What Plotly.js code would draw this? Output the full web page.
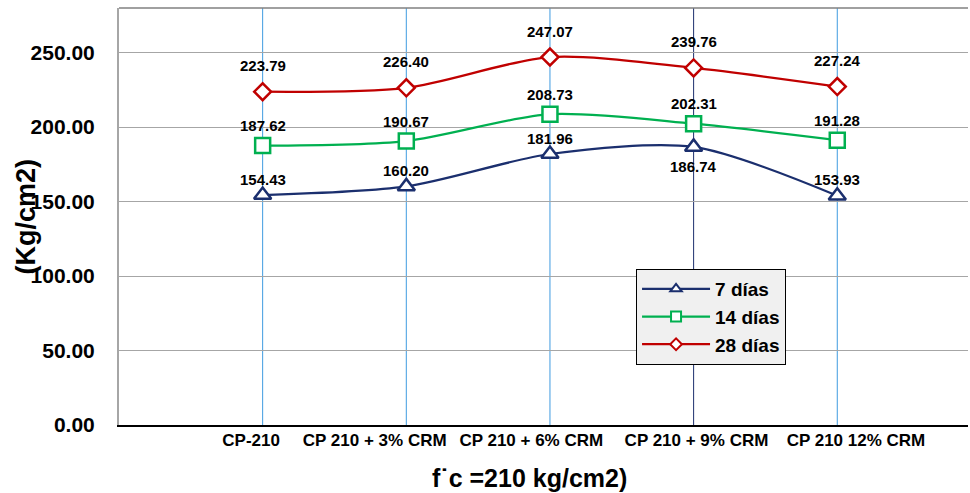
<!DOCTYPE html>
<html>
<head>
<meta charset="utf-8">
<script src="https://cdn.plot.ly/plotly-3.0.1.min.js"></script>
<style>html,body{margin:0;padding:0;background:#fff;}#chart{width:970px;height:493px;}</style>
</head>
<body>
<div id="chart"></div>
<script>
const categories = ["CP-210", "CP 210 + 3% CRM", "CP 210 + 6% CRM", "CP 210 + 9% CRM", "CP 210 12% CRM"];
const seriesNames = ["7 días", "14 días", "28 días"];
const dias7 = [154.43, 160.20, 181.96, 186.74, 153.93];
const dias14 = [187.62, 190.67, 208.73, 202.31, 191.28];
const dias28 = [223.79, 226.40, 247.07, 239.76, 227.24];
const yTicks = [0, 50, 100, 150, 200, 250];
const xTitle = "f˙c =210 kg/cm2)";
const yTitle = "(Kg/cm2)";

const FONT = "Arial, 'Liberation Sans', sans-serif";
const idx = categories.map((_, i) => i);
// horizontal offsets of the category labels relative to their gridlines (layout only)
const labelOffsets = [-0.08, -0.22, -0.13, 0.02, 0.13];

const styles = [
  {data: dias7, color: "#1b2f6e", symbol: "triangle-up", size: 15, legSize: 10, shift: 16, below: [3]},
  {data: dias14, color: "#00b050", symbol: "square", size: 15, legSize: 10, shift: 20, below: []},
  {data: dias28, color: "#c00000", symbol: "diamond", size: 13, legSize: 9, shift: 26, below: []}
];

const traces = styles.map((s, k) => ({
  x: idx, y: s.data, type: "scatter", mode: "lines+markers", name: seriesNames[k],
  legendgroup: "g" + k, showlegend: false,
  line: {color: s.color, width: 2.25, shape: "spline", smoothing: 0.8},
  marker: {symbol: s.symbol, size: s.size, color: "#ffffff", line: {color: s.color, width: 2.5}},
  hoverinfo: "x+y"
}));
// legend entries (same series, smaller legend glyphs)
styles.forEach((s, k) => {
  traces.push({
    x: [null], y: [null], type: "scatter", mode: "lines+markers", name: seriesNames[k],
    legendgroup: "g" + k, showlegend: true,
    line: {color: s.color, width: 2.25},
    marker: {symbol: s.symbol, size: s.legSize, color: "#ffffff", line: {color: s.color, width: 2}},
    hoverinfo: "skip"
  });
});
// invisible trace carrying the offset category labels axis
traces.push({x: idx, y: dias7, xaxis: "x2", yaxis: "y", mode: "markers",
  marker: {opacity: 0}, showlegend: false, hoverinfo: "skip"});

const annotations = [];
styles.forEach((s) => {
  s.data.forEach((v, i) => {
    const below = s.below.includes(i);
    annotations.push({
      x: i, y: v, xref: "x", yref: "y", text: v.toFixed(2), showarrow: false,
      yshift: below ? -20 : s.shift,
      font: {family: FONT, size: 15, color: "#000", weight: "bold"}
    });
  });
});
annotations.push({
  xref: "paper", yref: "paper", x: -0.1107, y: 0.5, textangle: -90,
  xanchor: "center", yanchor: "middle", showarrow: false, text: yTitle,
  font: {family: FONT, size: 27, color: "#000", weight: "bold"}
});
annotations.push({
  xref: "paper", yref: "paper", x: 0.484, y: -0.127,
  xanchor: "center", yanchor: "middle", showarrow: false, text: xTitle,
  font: {family: FONT, size: 25, color: "#000", weight: "bold"}
});

const vColors = ["#3f9be0", "#3f9be0", "#3f9be0", "#1b2f6e", "#3f9be0"];
const shapes = idx.map(i => ({
  type: "line", xref: "x", yref: "paper", x0: i, x1: i, y0: 0, y1: 1,
  line: {color: vColors[i], width: 1}, layer: "below"
}));
shapes.push({type: "line", xref: "paper", yref: "paper", x0: 0, x1: 1, y0: 1, y1: 1,
  line: {color: "#808080", width: 1.5}});

const xRange = [-1, 4.91];
const layout = {
  width: 970, height: 493,
  margin: {l: 119, r: 2, t: 8, b: 68},
  paper_bgcolor: "#ffffff", plot_bgcolor: "#ffffff",
  showlegend: true,
  legend: {
    x: 0.609, y: 0.259, xanchor: "left", yanchor: "middle",
    bgcolor: "#f0f0f0", bordercolor: "#000", borderwidth: 1,
    font: {family: FONT, size: 19, color: "#000", weight: "bold"},
    tracegroupgap: 0, itemwidth: 68
  },
  xaxis: {
    type: "linear", range: xRange,
    tickvals: idx, showticklabels: false,
    showgrid: false, zeroline: false,
    showline: true, linecolor: "#000", linewidth: 2,
    ticks: "", fixedrange: true
  },
  xaxis2: {
    type: "linear", range: xRange, overlaying: "x", side: "bottom", anchor: "y",
    tickvals: idx.map(i => i + labelOffsets[i]), ticktext: categories,
    tickfont: {family: FONT, size: 17, color: "#000", weight: "bold"},
    showgrid: false, zeroline: false, showline: false,
    ticks: "", ticklabelstandoff: 3, fixedrange: true
  },
  yaxis: {
    range: [0, 280], tickvals: yTicks, tickformat: ".2f",
    tickfont: {family: FONT, size: 21, color: "#000", weight: "bold"},
    showgrid: true, gridcolor: "#a6a6a6", gridwidth: 1,
    zeroline: false, showline: true, linecolor: "#a6a6a6", linewidth: 2,
    ticks: "", ticklabelstandoff: 18,
    fixedrange: true
  },
  shapes: shapes,
  annotations: annotations
};

Plotly.newPlot("chart", traces, layout, {displayModeBar: false, staticPlot: true});
</script>
</body>
</html>
